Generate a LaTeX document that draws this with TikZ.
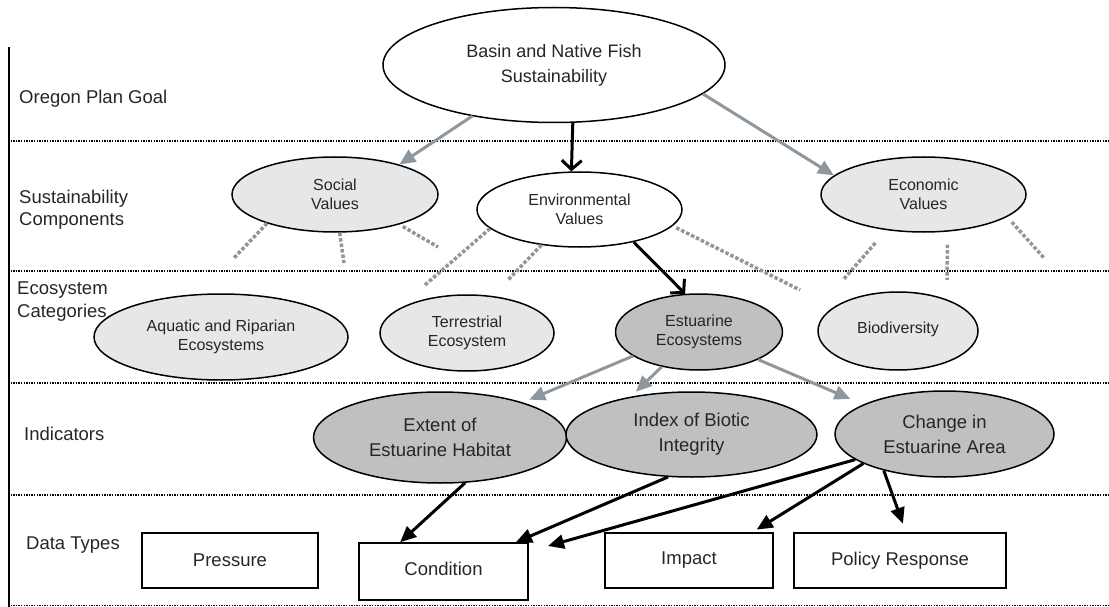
\documentclass[tikz,border=0pt]{standalone}
\usepackage{fontspec}
\setmainfont{Liberation Sans}
\usetikzlibrary{arrows.meta,shapes.geometric}
\definecolor{lgray}{HTML}{E6E7E8}
\definecolor{dgray}{HTML}{BFC0C2}
\definecolor{agray}{HTML}{8E979D}
\definecolor{txt}{HTML}{262626}
\begin{document}
\begin{tikzpicture}[x=1pt,y=-1pt,
  ell/.style={ellipse, draw=black, line width=1.5pt, inner sep=0pt, align=center, text=txt},
  small/.style={font=\fontsize{16}{18.5}\selectfont},
  big/.style={font=\fontsize{18.5}{25}\selectfont},
  lab/.style={font=\fontsize{18.5}{22.5}\selectfont, text=txt, align=left, inner sep=0pt},
  databox/.style={rectangle, draw=black, line width=1.5pt, inner sep=0pt, text=txt, font=\fontsize{18.5}{22}\selectfont},
  garrow/.style={draw=agray, line width=3pt, -{Triangle[length=16pt,width=14pt]}},
  barrow/.style={draw=black, line width=3pt, -{Triangle[length=16pt,width=14pt]}},
  chev/.style={draw=black, line width=3pt, -{Straight Barb[length=9pt,width=20pt]}},
  branch/.style={draw=agray, line width=3.5pt, dash pattern=on 3.5pt off 2pt},
  sep/.style={draw=black, line width=1.3pt, dash pattern=on 1.3pt off 1.3pt}
]
\useasboundingbox (0,0) rectangle (1109,607);

% frame lines
\draw[line width=1.4pt] (9,47) -- (9,607);
\draw[sep] (8,141) -- (1109,141);
\draw[sep] (8,271) -- (1109,271);
\draw[sep] (8,383) -- (1109,383);
\draw[sep] (8,495) -- (1109,495);
\draw[sep] (8,605.5) -- (1109,605.5);

% row labels
\node[lab, anchor=base west] (l1) at (19,104) {Oregon Plan Goal};
\node[lab, anchor=west] (l2) at (19,209.5) {Sustainability\\Components};
\node[lab, anchor=west] (l3) at (17,301.5) {Ecosystem\\Categories};
\node[lab, anchor=base west] (l4) at (24,440) {Indicators};
\node[lab, anchor=base west] (l5) at (26,549) {Data Types};

% goal
\node[ell, fill=white, minimum width=342pt, minimum height=115pt, font=\fontsize{18}{25}\selectfont] (basin) at (554,65) {Basin and Native Fish\\Sustainability};

% components
\node[ell, small, fill=lgray, minimum width=206pt, minimum height=75pt] (social) at (335,194.5) {Social\\Values};
\node[ell, small, fill=white, minimum width=205pt, minimum height=75pt] (env) at (579.5,209.5) {Environmental\\Values};
\node[ell, small, fill=lgray, minimum width=205pt, minimum height=75pt] (econ) at (923.5,194.5) {Economic\\Values};

% categories
\node[ell, small, fill=lgray, minimum width=254pt, minimum height=86pt] (aqua) at (221,337) {Aquatic and Riparian\\Ecosystems};
\node[ell, small, fill=lgray, minimum width=174pt, minimum height=76pt] (terr) at (467,333) {Terrestrial\\Ecosystem};
\node[ell, small, fill=dgray, minimum width=167pt, minimum height=76pt] (est) at (699,332) {Estuarine\\Ecosystems};
\node[ell, small, fill=lgray, minimum width=160pt, minimum height=78pt] (bio) at (898,331) {\raisebox{7pt}{Biodiversity}};

% indicators
\node[ell, big, fill=dgray, minimum width=253pt, minimum height=91pt] (extent) at (440,437.5) {Extent of\\Estuarine Habitat};
\node[ell, big, fill=dgray, minimum width=251pt, minimum height=85pt] (index) at (691.5,434.5) {Index of Biotic\\Integrity};
\node[ell, big, fill=dgray, minimum width=219pt, minimum height=86pt] (change) at (944.5,434) {Change in\\Estuarine Area};

% data types
\node[databox, minimum width=176pt, minimum height=55pt] (pressure) at (230,560.5) {Pressure};
\node[databox, minimum width=169pt, minimum height=57pt] (cond) at (443.5,571.5) {\raisebox{6pt}{Condition}};
\node[databox, minimum width=168pt, minimum height=55pt] (impact) at (689,560.5) {Impact};
\node[databox, minimum width=212pt, minimum height=55pt] (policy) at (900,560.5) {Policy Response};

% dotted branches
\coordinate (s1e) at (233,259);
\coordinate (s2e) at (344,263);
\coordinate (s3e) at (438,247);
\coordinate (e1e) at (425,285);
\coordinate (e2e) at (508,280);
\coordinate (e3e) at (800,290);
\coordinate (c1e) at (843,280);
\coordinate (c2e) at (947,280);
\coordinate (c3e) at (1044,258);
\draw[branch] (social.203) -- (s1e);
\draw[branch] (social.277) -- (s2e);
\draw[branch, shorten <=4pt] (social.335) -- (s3e);
\draw[branch] (env.192) -- (e1e);
\draw[branch] (env.223) -- (e2e);
\draw[branch, shorten <=4pt] (env.350) -- (e3e);
\draw[branch, shorten <=17pt] (econ.224) -- (c1e);
\draw[branch, shorten <=13pt] (econ.303) -- (c2e);
\draw[branch, shorten <=7pt] (econ.345) -- (c3e);

% arrows
\draw[garrow] (basin.212) -- (social.25);
\draw[garrow] (basin.349) -- (econ.168);
\draw[chev] (basin.288) -- (env.102);
\draw[chev] (env.329) -- (est.110);
\draw[garrow, shorten >=7pt] (est.200) -- (extent.23);
\draw[garrow, shorten >=7pt] (est.223) -- (index.148);
\draw[garrow, shorten >=14pt] (est.335) -- (change.160);

\coordinate (condR) at (548,546);
\draw[barrow] (extent.299) -- (cond.146);
\draw[barrow] (index.241) -- (cond.22);
\draw[barrow] (change.196) -- (condR);
\draw[barrow, shorten >=5pt] (change.200) -- (impact.24);
\draw[barrow, shorten >=9pt] (change.211) -- (policy.78);
\end{tikzpicture}
\end{document}
